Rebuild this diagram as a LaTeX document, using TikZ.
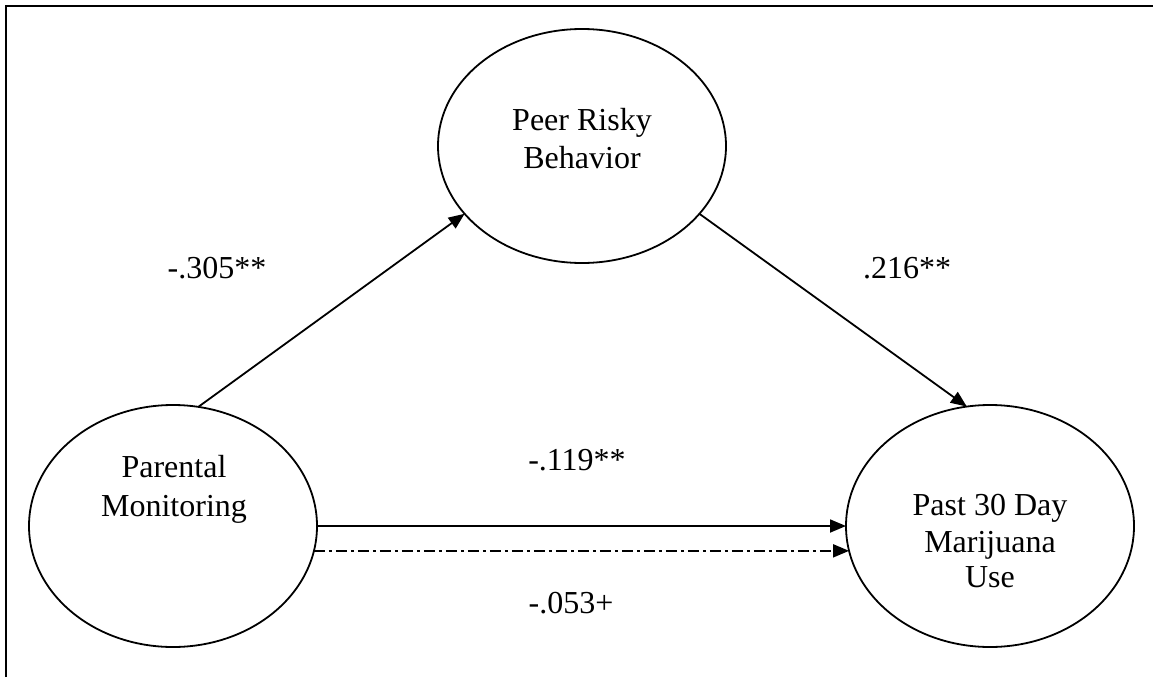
\documentclass[tikz,border=0pt]{standalone}
\usepackage{fontspec}
\setmainfont{Liberation Serif}
\usetikzlibrary{arrows.meta,shapes.geometric}

\begin{document}
\begin{tikzpicture}[x=1pt,y=-1pt,
  var/.style={draw,ellipse,line width=1.8pt,minimum width=288pt,minimum height=242pt,inner sep=0pt,outer sep=0pt},
  txt/.style={font=\fontsize{32}{37}\selectfont,anchor=base,inner sep=0pt},
  effect/.style={line width=1.8pt,-{Triangle[length=16pt,width=13pt]}},
  dashdot/.style={dash pattern=on 11pt off 4pt on 3pt off 4pt},
  ]
\useasboundingbox (0,0) rectangle (1153,677);
% frame
\draw[line width=2.5pt] (6,677) -- (6,6) -- (1153,6);

% variables
\node[var] (pm) at (173,526) {};
\node[var,minimum height=234pt] (peer) at (582,146) {};
\node[var] (use) at (990,526) {};

\node[txt] (pm1) at (174,477) {Parental};
\node[txt] (pm2) at (174,516) {Monitoring};
\node[txt] (peer1) at (582,130) {Peer Risky};
\node[txt] (peer2) at (582,168) {Behavior};
\node[txt] (use1) at (990,515) {Past 30 Day};
\node[txt] (use2) at (990,552) {Marijuana};
\node[txt] (use3) at (990,587) {Use};

% paths
\draw[effect] (pm.78.6) -- (peer.210.3);
\draw[effect] (peer.-30.3) -- (use.101.8);
\draw[effect] (pm.east) -- (use.west);
\draw[effect,dashdot] (pm.-10) -- (use.190);

% coefficients
\node[txt] (b1) at (217,278) {-.305**};
\node[txt] (b2) at (907,278) {.216**};
\node[txt] (b3) at (577,470) {-.119**};
\node[txt] (b4) at (571,613) {-.053+};
\end{tikzpicture}
\end{document}
